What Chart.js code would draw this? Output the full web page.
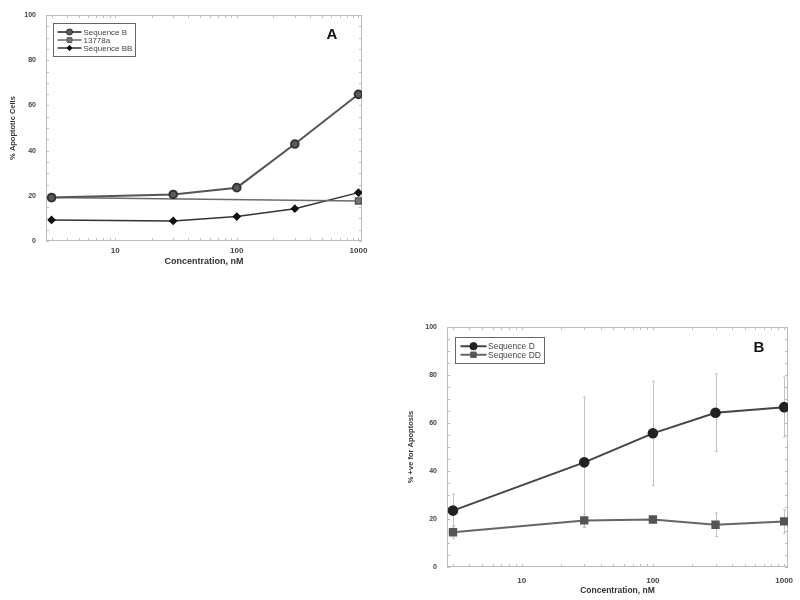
<!DOCTYPE html>
<html>
<head>
<meta charset="utf-8">
<script src="https://cdn.jsdelivr.net/npm/chart.js@4/dist/chart.umd.min.js"></script>
<style>
  html, body { margin: 0; padding: 0; background: #fff; }
  #wrap { position: relative; width: 800px; height: 600px; overflow: hidden; }
  .panel { position: absolute; }
</style>
</head>
<body>
<div id="wrap">
  <div class="panel" style="left:0;top:0;width:380px;height:280px"><canvas id="chartA"></canvas></div>
  <div class="panel" style="left:395px;top:310px;width:405px;height:290px"><canvas id="chartB"></canvas></div>
</div>
<script>
// panel A data
const concA = [3, 30, 100, 300, 1000];
const seqB = [19.2, 20.6, 23.6, 42.9, 64.9];
const conc13778a = [3, 1000];
const val13778a = [19.2, 17.7];
const seqBB = [9.3, 8.9, 10.8, 14.3, 21.4];

// panel B data (mean +/- error)
const concB = [3, 30, 100, 300, 1000];
const seqD = [23.5, 43.6, 55.7, 64.3, 66.6];
const errD = [6.8, 27.2, 21.7, 16.2, 12.5];
const seqDD = [14.5, 19.4, 19.8, 17.6, 19.0];
const errDD = [2.7, 2.5, 1.5, 4.9, 5.0];

const xTicks = [10, 100, 1000];
const yStep = 20;

Chart.defaults.font.family = '"Liberation Sans", Arial, sans-serif';

const toPoints = (xs, ys) => xs.map((x, i) => ({ x: x, y: ys[i] }));

// frame, inward minor ticks and error bars
const framePlugin = {
  id: 'frame',
  beforeDatasetsDraw(chart) {
    const { ctx, chartArea: a, scales: { x, y } } = chart;
    ctx.save();
    ctx.strokeStyle = '#bdbdbd';
    ctx.lineWidth = 1;
    ctx.strokeRect(a.left + 0.5, a.top + 0.5, a.width - 1, a.height - 1);
    ctx.beginPath();
    for (let v = 0; v <= 100; v += 5) {
      const py = Math.round(y.getPixelForValue(v)) + 0.5;
      ctx.moveTo(a.left, py); ctx.lineTo(a.left + 3, py);
      ctx.moveTo(a.right, py); ctx.lineTo(a.right - 3, py);
    }
    for (let d = 1; d <= 1000; d *= 10) {
      for (let m = 1; m < 10; m++) {
        const v = d * m;
        if (v < x.min || v > x.max) continue;
        const px = Math.round(x.getPixelForValue(v)) + 0.5;
        ctx.moveTo(px, a.bottom); ctx.lineTo(px, a.bottom - 3);
        ctx.moveTo(px, a.top); ctx.lineTo(px, a.top + 3);
      }
    }
    ctx.stroke();

    // error bars
    ctx.strokeStyle = '#c4c4c4';
    chart.data.datasets.forEach((ds, i) => {
      if (!ds.errorBars) return;
      const meta = chart.getDatasetMeta(i);
      meta.data.forEach((pt, j) => {
        const e = ds.errorBars[j];
        const v = ds.data[j].y;
        const px = Math.round(pt.x) + 0.5;
        const top = y.getPixelForValue(v + e);
        const bot = y.getPixelForValue(v - e);
        ctx.beginPath();
        ctx.moveTo(px, top); ctx.lineTo(px, bot);
        ctx.moveTo(px - 1.5, top); ctx.lineTo(px + 1.5, top);
        ctx.moveTo(px - 1.5, bot); ctx.lineTo(px + 1.5, bot);
        ctx.stroke();
      });
    });
    ctx.restore();
  }
};

// boxed legend inside the plot, line through marker
const boxLegend = {
  id: 'boxLegend',
  afterDatasetsDraw(chart, args, opts) {
    const { ctx, chartArea: a } = chart;
    const sets = chart.data.datasets;
    ctx.save();
    ctx.font = opts.fontSize + 'px "Liberation Sans", Arial, sans-serif';
    const textW = Math.max(...sets.map(d => ctx.measureText(d.label).width));
    const x0 = Math.round(a.left + opts.dx) + 0.5;
    const y0 = Math.round(a.top + opts.dy) + 0.5;
    const w = Math.round(opts.padLeft + opts.lineW + opts.gap + textW + opts.padRight);
    const h = Math.round(opts.padTop * 2 + sets.length * opts.rowH);
    ctx.fillStyle = '#fff';
    ctx.fillRect(x0, y0, w, h);
    ctx.strokeStyle = '#666';
    ctx.lineWidth = 1;
    ctx.strokeRect(x0, y0, w, h);
    sets.forEach((d, i) => {
      const cy = y0 + opts.padTop + opts.rowH * (i + 0.5);
      const lx = x0 + opts.padLeft;
      ctx.strokeStyle = d.borderColor;
      ctx.lineWidth = d.borderWidth;
      ctx.beginPath(); ctx.moveTo(lx, cy); ctx.lineTo(lx + opts.lineW, cy); ctx.stroke();
      ctx.fillStyle = d.pointBackgroundColor;
      ctx.strokeStyle = d.pointBorderColor;
      ctx.lineWidth = 1;
      Chart.helpers.drawPoint(ctx, { pointStyle: d.pointStyle, radius: d.pointRadius * opts.markerScale, rotation: 0, borderWidth: 1 }, lx + opts.lineW / 2, cy);
      ctx.fillStyle = opts.color;
      ctx.textBaseline = 'middle';
      ctx.textAlign = 'left';
      ctx.fillText(d.label, lx + opts.lineW + opts.gap, cy + 0.5);
    });
    ctx.restore();
  }
};

// panel letter
const panelLabel = {
  id: 'panelLabel',
  afterDraw(chart, args, opts) {
    const { ctx, chartArea: a } = chart;
    ctx.save();
    ctx.font = 'bold 15px "Liberation Sans", Arial, sans-serif';
    ctx.fillStyle = '#111';
    ctx.textAlign = 'center';
    ctx.textBaseline = 'middle';
    ctx.fillText(opts.text, a.right - opts.fromRight, a.top + opts.fromTop);
    ctx.restore();
  }
};

function makeScales(yTitle, d) {
  return {
    x: {
      type: 'logarithmic',
      min: 2.7,
      max: 1070,
      afterBuildTicks: s => { s.ticks = xTicks.map(v => ({ value: v })); },
      afterFit: s => { s.height = d.xH; },
      grid: { display: false, drawTicks: false },
      border: { display: false },
      ticks: {
        autoSkip: false, maxRotation: 0, padding: 2, color: '#444',
        font: { size: 8, weight: 'bold', lineHeight: d.xLH },
        callback: v => String(v)
      },
      title: {
        display: true, text: 'Concentration, nM', color: '#333',
        font: { size: d.xTitleSize, weight: 'bold' },
        padding: { top: 0, bottom: d.xTitlePad }
      }
    },
    y: {
      min: 0,
      max: 100,
      afterFit: s => { s.width = d.yW; },
      grid: { display: false, drawTicks: false },
      border: { display: false },
      ticks: { stepSize: yStep, padding: 10, color: '#444', font: { size: 7, weight: 'bold' } },
      title: {
        display: true, text: yTitle, color: '#333',
        font: { size: 7.5, weight: 'bold' },
        padding: { top: d.yTitlePad, bottom: 0 }
      }
    }
  };
}

new Chart(document.getElementById('chartA'), {
  type: 'line',
  data: {
    datasets: [
      {
        label: 'Sequence B',
        data: toPoints(concA, seqB),
        borderColor: '#555', borderWidth: 2,
        pointStyle: 'circle', pointRadius: 3.8,
        pointBackgroundColor: '#5a5a5a', pointBorderColor: '#333'
      },
      {
        label: '13778a',
        data: toPoints(conc13778a, val13778a),
        borderColor: '#6a6a6a', borderWidth: 1.5,
        pointStyle: 'rect', pointRadius: 4.2,
        pointBackgroundColor: '#777', pointBorderColor: '#555'
      },
      {
        label: 'Sequence BB',
        data: toPoints(concA, seqBB),
        borderColor: '#333', borderWidth: 1.5,
        pointStyle: 'rectRot', pointRadius: 3.3,
        pointBackgroundColor: '#111', pointBorderColor: '#111'
      }
    ]
  },
  options: {
    responsive: true,
    maintainAspectRatio: false,
    animation: false,
    layout: { padding: { left: 0, top: 15, right: 18, bottom: 0 } },
    scales: makeScales('% Apoptotic Cells', { xH: 39, xLH: 2, xTitleSize: 9, xTitlePad: 13, yW: 46, yTitlePad: 8 }),
    plugins: {
      legend: { display: false },
      tooltip: { enabled: false },
      boxLegend: { dx: 7, dy: 8, fontSize: 8, rowH: 8, padTop: 4.5, padLeft: 4, lineW: 24, gap: 2, padRight: 3, markerScale: 0.8, color: '#444' },
      panelLabel: { text: 'A', fromRight: 30, fromTop: 20 }
    }
  },
  plugins: [framePlugin, boxLegend, panelLabel]
});

new Chart(document.getElementById('chartB'), {
  type: 'line',
  data: {
    datasets: [
      {
        label: 'Sequence D',
        data: toPoints(concB, seqD),
        errorBars: errD,
        borderColor: '#444', borderWidth: 2,
        pointStyle: 'circle', pointRadius: 4.3,
        pointBackgroundColor: '#222', pointBorderColor: '#222'
      },
      {
        label: 'Sequence DD',
        data: toPoints(concB, seqDD),
        errorBars: errDD,
        borderColor: '#666', borderWidth: 2,
        pointStyle: 'rect', pointRadius: 4.5,
        pointBackgroundColor: '#555', pointBorderColor: '#555'
      }
    ]
  },
  options: {
    responsive: true,
    maintainAspectRatio: false,
    animation: false,
    layout: { padding: { left: 0, top: 17, right: 12, bottom: 0 } },
    scales: makeScales('% +ve for Apoptosis', { xH: 33, xLH: 3, xTitleSize: 8.5, xTitlePad: 4, yW: 52, yTitlePad: 11 }),
    plugins: {
      legend: { display: false },
      tooltip: { enabled: false },
      boxLegend: { dx: 8, dy: 10, fontSize: 8.5, rowH: 8.5, padTop: 4.5, padLeft: 5, lineW: 26, gap: 1.5, padRight: 4, markerScale: 0.85, color: '#444' },
      panelLabel: { text: 'B', fromRight: 29, fromTop: 21 }
    }
  },
  plugins: [framePlugin, boxLegend, panelLabel]
});
</script>
</body>
</html>
